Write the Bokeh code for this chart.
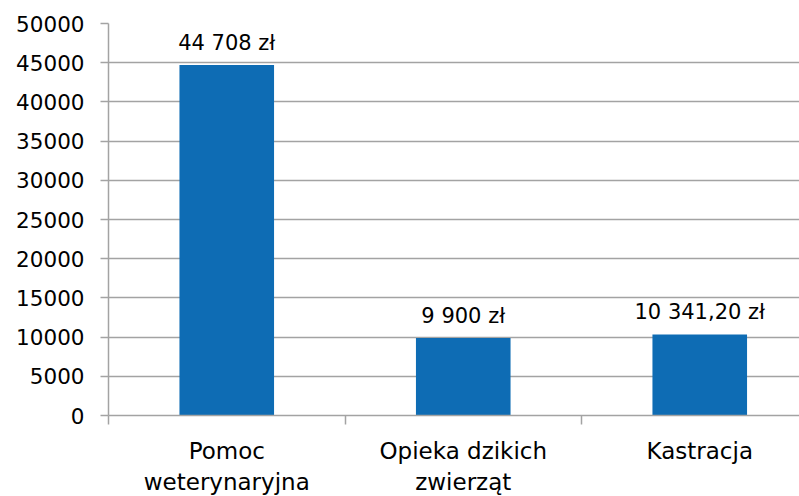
from bokeh.plotting import figure
from bokeh.models import ColumnDataSource, Range1d, FixedTicker
from bokeh.core.properties import value
from bokeh.embed import file_html
from bokeh.resources import INLINE

categories = ["Pomoc\nweterynaryjna", "Opieka dzikich\nzwierząt", "Kastracja"]
amounts = [44708, 9900, 10341.20]
amount_labels = ["44 708 zł", "9 900 zł", "10 341,20 zł"]
y_ticks = [0, 5000, 10000, 15000, 20000, 25000, 30000, 35000, 40000, 45000, 50000]

positions = [i + 0.5 for i in range(len(categories))]
src = ColumnDataSource(dict(x=positions, top=amounts, lab=amount_labels))

FONT = "DejaVu Sans"
GRID = "#A3A3A3"

p = figure(frame_width=691, frame_height=392, output_backend="svg", toolbar_location=None,
           x_range=Range1d(0, 691 / 236.5), y_range=Range1d(0, 50000),
           min_border_left=108, min_border_right=0, min_border_top=23, min_border_bottom=81)
p.outline_line_color = None
p.background_fill_color = "white"
p.border_fill_color = "white"

p.vbar(x="x", top="top", width=0.40, source=src, fill_color="#0E6CB4", line_color=None)
p.text(x="x", y="top", text="lab", source=src, text_align="center", text_baseline="alphabetic",
       y_offset=-22, text_font=value(FONT), text_font_size="21px", text_color="black")

# y axis
p.yaxis.ticker = FixedTicker(ticks=y_ticks)
p.yaxis.axis_line_color = GRID
p.yaxis.axis_line_width = 1.5
p.yaxis.major_tick_line_color = GRID
p.yaxis.major_tick_line_width = 1.5
p.yaxis.major_tick_out = 8
p.yaxis.major_tick_in = 0
p.yaxis.minor_tick_line_color = None
p.yaxis.major_label_standoff = 16
p.yaxis.major_label_text_font = FONT
p.yaxis.major_label_text_font_size = "21.5px"
p.yaxis.major_label_text_color = "black"

# x axis
p.xaxis.ticker = FixedTicker(ticks=positions, minor_ticks=[0, 1, 2, 3])
p.xaxis.major_label_overrides = {pos: cat for pos, cat in zip(positions, categories)}
p.xaxis.axis_line_color = GRID
p.xaxis.axis_line_width = 1.5
p.xaxis.major_tick_line_color = None
p.xaxis.major_tick_out = 0
p.xaxis.major_tick_in = 0
p.xaxis.minor_tick_line_color = GRID
p.xaxis.minor_tick_line_width = 1.5
p.xaxis.minor_tick_out = 9
p.xaxis.minor_tick_in = 0
p.xaxis.major_label_standoff = 13
p.xaxis.major_label_text_font = FONT
p.xaxis.major_label_text_font_size = "23px"
p.xaxis.major_label_text_color = "black"
p.xaxis.major_label_text_line_height = 1.22

p.xgrid.grid_line_color = None
p.ygrid.grid_line_color = GRID
p.ygrid.grid_line_width = 1.5

open("out.html", "w").write(file_html(p, INLINE))
